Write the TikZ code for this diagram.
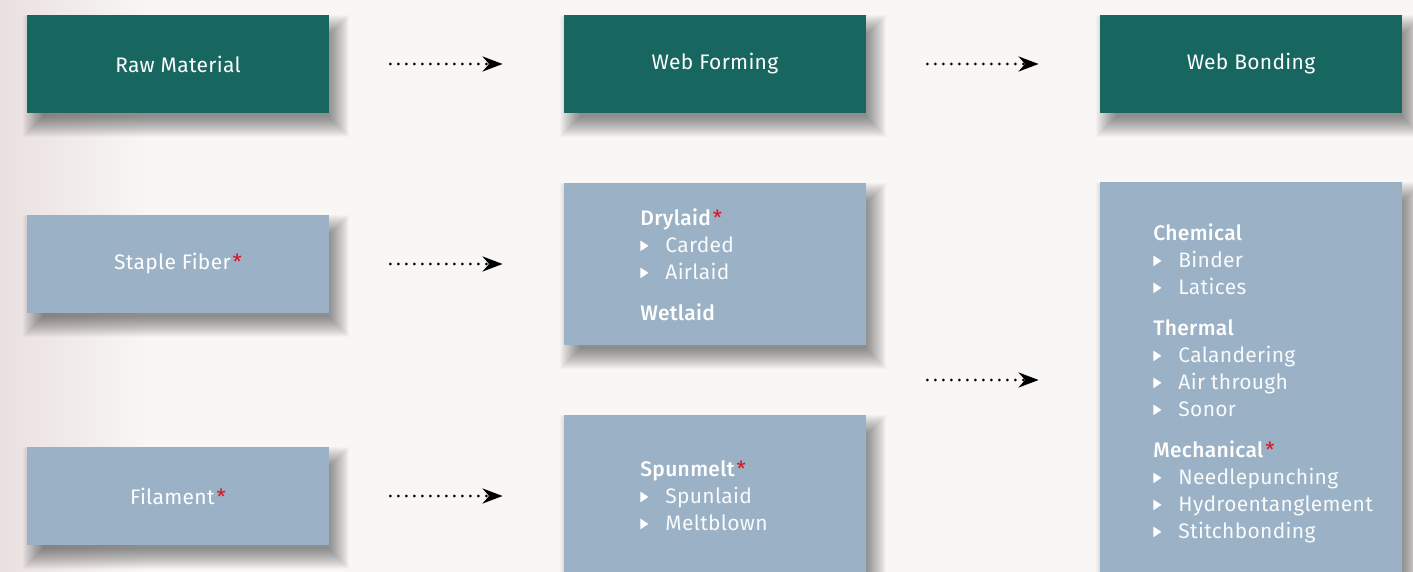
\documentclass[tikz,border=0pt]{standalone}
\usepackage{fontspec}
\setmainfont{Fira Sans}[LetterSpace=1.5,BoldFont={Fira Sans Medium},BoldFeatures={LetterSpace=1.5}]
\usetikzlibrary{positioning,calc,arrows.meta,backgrounds}

\definecolor{stepteal}{RGB}{23,103,96}
\definecolor{steplight}{RGB}{155,177,198}
\definecolor{starred}{RGB}{220,18,30}
\definecolor{pagebg}{RGB}{248,247,246}
\definecolor{pagepink}{RGB}{234,224,224}

\newcommand{\bul}{\makebox[12.5pt][l]{\tikz[baseline=0pt]\fill[white] (0,0.5pt) -- (0,5.8pt) -- (4pt,3.15pt) -- cycle;}}
\newcommand{\hd}[1]{{\color{white}\bfseries #1}}
\newcommand{\itm}[1]{\bul #1}
\newcommand{\redstar}{\hspace{1pt}{\color{starred}*}}

\tikzset{
  box/.style={minimum width=151pt, minimum height=49pt, inner sep=0pt, text=white,
    font=\fontsize{10.5}{13.5}\selectfont},
  topbox/.style={box, fill=stepteal},
  subbox/.style={box, fill=steplight},
  listtext/.style={anchor=north west, inner sep=0pt, align=left, text=white!93!steplight,
    font=\fontsize{10.5}{13.5}\selectfont},
  flowarrow/.style={line width=1.5pt, dash pattern=on 0pt off 4pt, line cap=round,
    -{Stealth[length=10pt,width=7.5pt]}, shorten <=30.5pt, shorten >=30.5pt},
  softshade/.style={black, opacity=0.022}
}

\begin{document}
\begin{tikzpicture}[x=0.5pt, y=-0.5pt]
  \useasboundingbox (0,0) rectangle (1413,572);

  % top row
  \node[topbox] (raw) at (178,64) {Raw Material};
  \node[topbox] (form) at (715,64) {Web Forming};
  \node[topbox] (bond) at (1251,64) {Web Bonding};

  % raw materials
  \node[subbox] (staple) at (178,264) {Staple Fiber\redstar};
  \node[subbox] (filament) at (178,496) {Filament\redstar};

  % forming
  \node[subbox, minimum height=81pt] (dry) at (715,264) {};
  \node[subbox, minimum height=92.5pt] (melt) at (715,507.5) {};
  \node[listtext] (drylist) at (640,208) {\hd{Drylaid}\redstar\\ \itm{Carded}\\ \itm{Airlaid}\\[7pt] \hd{Wetlaid}};
  \node[listtext] (meltlist) at (640,460) {\hd{Spunmelt}\redstar\\ \itm{Spunlaid}\\ \itm{Meltblown}};

  % bonding
  \node[subbox, minimum height=209pt] (bondbox) at (1251,391) {};
  \node[listtext] (bondlist) at (1153,223) {\hd{Chemical}\\ \itm{Binder}\\ \itm{Latices}\\[7pt]
    \hd{Thermal}\\ \itm{Calandering}\\ \itm{Air through}\\ \itm{Sonor}\\[7pt]
    \hd{Mechanical}\redstar\\ \itm{Needlepunching}\\ \itm{Hydroentanglement}\\ \itm{Stitchbonding}};

  \coordinate (formjoin) at ($(dry.south east)!0.5!(melt.north east)$);

  % page and shadows
  \begin{scope}[on background layer]
    \fill[pagebg] (0,0) rectangle (1413,572);
    \shade[left color=pagepink, right color=pagebg] (0,0) rectangle (150,572);
    \foreach \n in {raw,form,bond,staple,filament,dry,melt,bondbox}
      \foreach \g in {-8,...,12}
        \fill[softshade] ($(\n.north west)+(8-\g,12-\g)$) rectangle ($(\n.south east)+(8+\g,12+\g)$);
  \end{scope}

  % flow
  \draw[flowarrow] (raw) -- (form);
  \draw[flowarrow] (form) -- (bond);
  \draw[flowarrow] (staple) -- (staple -| dry.west);
  \draw[flowarrow] (filament) -- (filament -| melt.west);
  \draw[flowarrow] (formjoin) -- (formjoin -| bondbox.west);
\end{tikzpicture}
\end{document}
